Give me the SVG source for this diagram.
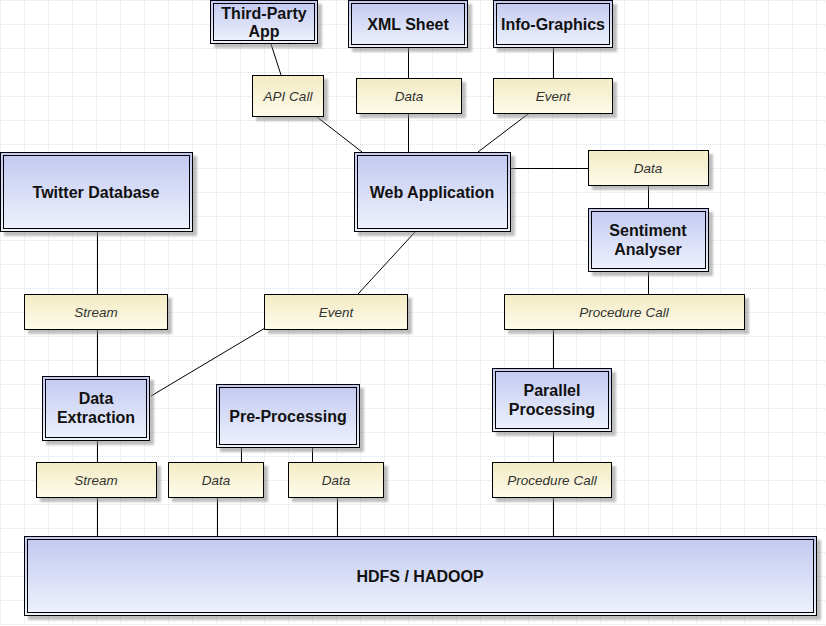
<svg xmlns="http://www.w3.org/2000/svg" width="826" height="626" viewBox="0 0 826 626">
<defs>
<pattern id="grid" width="24" height="24" patternUnits="userSpaceOnUse">
<path d="M0.5 0V24M0 0.5H24" stroke="#e0e0e0" stroke-width="1" stroke-dasharray="1 1" fill="none"/>
</pattern>
<linearGradient id="gNode" x1="0" y1="0" x2="0" y2="1">
<stop offset="0" stop-color="#c2c8f0"/>
<stop offset="1" stop-color="#eef3fd"/>
</linearGradient>
<linearGradient id="gLbl" x1="0" y1="0" x2="0" y2="1">
<stop offset="0" stop-color="#f3ebc4"/>
<stop offset="1" stop-color="#fdfbea"/>
</linearGradient>
<filter id="blur" x="-10%" y="-10%" width="130%" height="130%">
<feGaussianBlur stdDeviation="1.2"/>
</filter>
</defs>
<style>
.sh{fill:#8a8a8a;opacity:.55;filter:url(#blur)}
.no{fill:url(#gNode);stroke:#000;stroke-width:1}
.ni{fill:none;stroke:#000;stroke-width:1}
.lb{fill:url(#gLbl);stroke:#000;stroke-width:1}
.nt{font-family:"Liberation Sans",Arial,sans-serif;font-weight:bold;font-size:16px;fill:#111;text-anchor:middle}
.lt{font-family:"Liberation Sans",Arial,sans-serif;font-style:italic;font-size:13.5px;fill:#333;text-anchor:middle}
.cn line{stroke:#000;stroke-width:1}
</style>
<rect width="826" height="626" fill="#fff"/>
<rect width="826" height="626" fill="url(#grid)"/>

<g id="connectors" class="cn">
<line x1="271" y1="44" x2="281" y2="75"/>
<line x1="317" y1="117" x2="362" y2="152"/>
<line x1="408.5" y1="48" x2="408.5" y2="78"/>
<line x1="408.5" y1="114" x2="408.5" y2="152"/>
<line x1="553.5" y1="48" x2="553.5" y2="78"/>
<line x1="528" y1="114" x2="478" y2="152"/>
<line x1="511" y1="168.5" x2="588" y2="168.5"/>
<line x1="648.5" y1="186" x2="648.5" y2="208"/>
<line x1="648.5" y1="272" x2="648.5" y2="294"/>
<line x1="553.5" y1="330" x2="553.5" y2="368"/>
<line x1="553.5" y1="432" x2="553.5" y2="462"/>
<line x1="553.5" y1="498" x2="553.5" y2="536"/>
<line x1="97.5" y1="232" x2="97.5" y2="294"/>
<line x1="97.5" y1="330" x2="97.5" y2="376"/>
<line x1="97.5" y1="441" x2="97.5" y2="462"/>
<line x1="97.5" y1="498" x2="97.5" y2="536"/>
<line x1="415" y1="232" x2="358" y2="294"/>
<line x1="265" y1="328" x2="151" y2="396"/>
<line x1="241.5" y1="448" x2="241.5" y2="462"/>
<line x1="312.5" y1="448" x2="312.5" y2="462"/>
<line x1="217.5" y1="498" x2="217.5" y2="536"/>
<line x1="337.5" y1="498" x2="337.5" y2="536"/>
</g>

<g id="third-party-app">
<rect class="sh" x="214" y="4" width="108" height="44"/>
<rect class="no" x="210.5" y="0.5" width="107" height="43"/>
<rect class="ni" x="213.5" y="3.5" width="101" height="37"/>
<text class="nt" x="264" y="19">Third-Party</text>
<text class="nt" x="264" y="37">App</text>
</g>
<g id="xml-sheet">
<rect class="sh" x="352" y="4" width="120" height="48"/>
<rect class="no" x="348.5" y="0.5" width="119" height="47"/>
<rect class="ni" x="351.5" y="3.5" width="113" height="41"/>
<text class="nt" x="408" y="30">XML Sheet</text>
</g>
<g id="info-graphics">
<rect class="sh" x="497" y="4" width="120" height="48"/>
<rect class="no" x="493.5" y="0.5" width="119" height="47"/>
<rect class="ni" x="496.5" y="3.5" width="113" height="41"/>
<text class="nt" x="553" y="30">Info-Graphics</text>
</g>
<g id="web-application">
<rect class="sh" x="358" y="156" width="157" height="80"/>
<rect class="no" x="354.5" y="152.5" width="156" height="79"/>
<rect class="ni" x="357.5" y="155.5" width="150" height="73"/>
<text class="nt" x="432" y="198">Web Application</text>
</g>
<g id="twitter-database">
<rect class="sh" x="4" y="156" width="193" height="80"/>
<rect class="no" x="0.5" y="152.5" width="192" height="79"/>
<rect class="ni" x="3.5" y="155.5" width="186" height="73"/>
<text class="nt" x="96" y="198">Twitter Database</text>
</g>
<g id="sentiment-analyser">
<rect class="sh" x="592" y="212" width="121" height="64"/>
<rect class="no" x="588.5" y="208.5" width="120" height="63"/>
<rect class="ni" x="591.5" y="211.5" width="114" height="57"/>
<text class="nt" x="648" y="236">Sentiment</text>
<text class="nt" x="648" y="255">Analyser</text>
</g>
<g id="data-extraction">
<rect class="sh" x="46" y="380" width="108" height="65"/>
<rect class="no" x="42.5" y="376.5" width="107" height="64"/>
<rect class="ni" x="45.5" y="379.5" width="101" height="58"/>
<text class="nt" x="96" y="404">Data</text>
<text class="nt" x="96" y="423">Extraction</text>
</g>
<g id="pre-processing">
<rect class="sh" x="220" y="388" width="144" height="64"/>
<rect class="no" x="216.5" y="384.5" width="143" height="63"/>
<rect class="ni" x="219.5" y="387.5" width="137" height="57"/>
<text class="nt" x="288" y="422">Pre-Processing</text>
</g>
<g id="parallel-processing">
<rect class="sh" x="496" y="372" width="120" height="64"/>
<rect class="no" x="492.5" y="368.5" width="119" height="63"/>
<rect class="ni" x="495.5" y="371.5" width="113" height="57"/>
<text class="nt" x="552" y="396">Parallel</text>
<text class="nt" x="552" y="415">Processing</text>
</g>
<g id="hdfs-hadoop">
<rect class="sh" x="28" y="540" width="793" height="80"/>
<rect class="no" x="24.5" y="536.5" width="792" height="79"/>
<rect class="ni" x="27.5" y="539.5" width="786" height="73"/>
<text class="nt" x="420" y="582">HDFS / HADOOP</text>
</g>

<g id="label-api-call">
<rect class="sh" x="256" y="79" width="72" height="42"/>
<rect class="lb" x="252.5" y="75.5" width="71" height="41"/>
<text class="lt" x="288" y="101">API Call</text>
</g>
<g id="label-data-xml">
<rect class="sh" x="360" y="82" width="106" height="36"/>
<rect class="lb" x="356.5" y="78.5" width="105" height="35"/>
<text class="lt" x="409" y="101">Data</text>
</g>
<g id="label-event-info">
<rect class="sh" x="497" y="82" width="120" height="36"/>
<rect class="lb" x="493.5" y="78.5" width="119" height="35"/>
<text class="lt" x="553" y="101">Event</text>
</g>
<g id="label-data-sentiment">
<rect class="sh" x="592" y="154" width="121" height="36"/>
<rect class="lb" x="588.5" y="150.5" width="120" height="35"/>
<text class="lt" x="648" y="173">Data</text>
</g>
<g id="label-stream-twitter">
<rect class="sh" x="28" y="298" width="144" height="36"/>
<rect class="lb" x="24.5" y="294.5" width="143" height="35"/>
<text class="lt" x="96" y="317">Stream</text>
</g>
<g id="label-event-web">
<rect class="sh" x="268" y="298" width="144" height="36"/>
<rect class="lb" x="264.5" y="294.5" width="143" height="35"/>
<text class="lt" x="336" y="317">Event</text>
</g>
<g id="label-procedure-sentiment">
<rect class="sh" x="508" y="298" width="241" height="36"/>
<rect class="lb" x="504.5" y="294.5" width="240" height="35"/>
<text class="lt" x="624" y="317">Procedure Call</text>
</g>
<g id="label-stream-extraction">
<rect class="sh" x="40" y="466" width="121" height="36"/>
<rect class="lb" x="36.5" y="462.5" width="120" height="35"/>
<text class="lt" x="96" y="485">Stream</text>
</g>
<g id="label-data-pre1">
<rect class="sh" x="172" y="466" width="96" height="36"/>
<rect class="lb" x="168.5" y="462.5" width="95" height="35"/>
<text class="lt" x="216" y="485">Data</text>
</g>
<g id="label-data-pre2">
<rect class="sh" x="292" y="466" width="96" height="36"/>
<rect class="lb" x="288.5" y="462.5" width="95" height="35"/>
<text class="lt" x="336" y="485">Data</text>
</g>
<g id="label-procedure-parallel">
<rect class="sh" x="496" y="466" width="120" height="36"/>
<rect class="lb" x="492.5" y="462.5" width="119" height="35"/>
<text class="lt" x="552" y="485">Procedure Call</text>
</g>
</svg>
